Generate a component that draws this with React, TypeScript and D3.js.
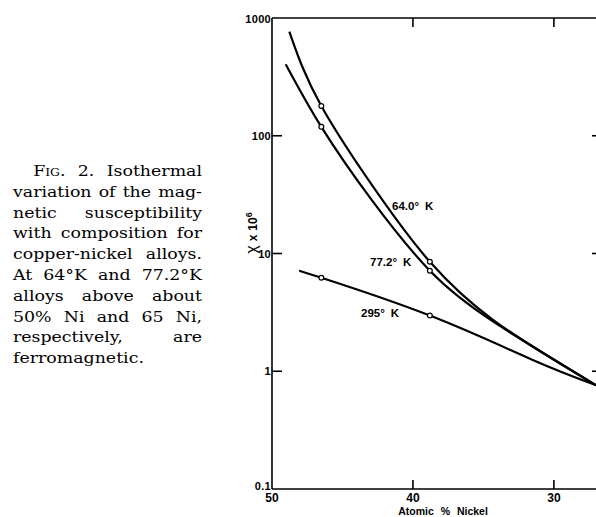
import React from 'react';
import * as d3 from 'd3';

// atomic % Ni vs susceptibility (x 10^6)
const curve64 = [
  [48.77, 766], [46.5, 179], [42.17, 28.5], [38.8, 8.5], [34.3, 2.72], [27.0, 0.76],
];
const curve77 = [
  [49.03, 405], [46.5, 119], [42.93, 28.5], [38.8, 7.14], [34.3, 2.64], [27.0, 0.76],
];
const curve295 = [
  [48.0, 7.1], [46.5, 6.22], [38.8, 2.97], [31.46, 1.24], [27.0, 0.76],
];
const marks64 = [[46.5, 179], [38.8, 8.5]];
const marks77 = [[46.5, 119], [38.8, 7.14]];
const marks295 = [[46.5, 6.22], [38.8, 2.97]];

const yTicks = [1000, 100, 10, 1, 0.1];
const yTickLabels = ['1000', '100', '10', '1', '0.1'];
const xTicks = [50, 40, 30];
const xTickLabels = ['50', '40', '30'];

const captionLines = [
  'variation of the mag-',
  'netic susceptibility',
  'with composition for',
  'copper-nickel alloys.',
  'At 64°K and 77.2°K',
  'alloys above about',
  '50% Ni and 65 Ni,',
  'respectively, are',
];

const W = 596;
const H = 517;
const sans = '"Liberation Sans", Arial, sans-serif';
const stretch = 1.12;

export default function App() {
  const x = d3.scaleLinear().domain([50, 26.8]).range([272, 599]);
  const y = d3.scaleLog().domain([0.1, 1000]).range([489, 18]);

  const line = d3
    .line<number[]>()
    .x(d => x(d[0]))
    .y(d => y(d[1]))
    .curve(d3.curveNatural);

  const x0 = x(50);
  const x1 = x(26.8);
  const yTop = y(1000);
  const yBot = y(0.1);

  const marker = (m: number[], i: number) => (
    <circle key={i} cx={x(m[0])} cy={y(m[1])} r={2.4} fill="#fff" stroke="#000" strokeWidth={1.2} />
  );

  return (
    <div style={{ position: 'absolute', left: 0, top: 0, width: W, height: H, background: '#fff' }}>
      <svg width={W} height={H} style={{ position: 'absolute', left: 0, top: 0 }}>
        {/* frame */}
        <g stroke="#000" strokeWidth={1.6} fill="none">
          <line x1={x0} y1={yTop} x2={x0} y2={yBot} />
          <line x1={x0} y1={yBot} x2={x1} y2={yBot} />
          <line x1={x0} y1={yTop} x2={x1} y2={yTop} />
          <line x1={x1} y1={yTop} x2={x1} y2={yBot} />
          {yTicks.slice(1, 4).map(t => (
            <line key={'l' + t} x1={x0} x2={x0 + 10} y1={y(t)} y2={y(t)} />
          ))}
          {yTicks.slice(1, 4).map(t => (
            <line key={'r' + t} x1={x1} x2={x1 - 7} y1={y(t)} y2={y(t)} />
          ))}
          {xTicks.slice(1).map(t => (
            <line key={'b' + t} x1={x(t)} x2={x(t)} y1={yBot} y2={yBot - 9} />
          ))}
          {xTicks.slice(1).map(t => (
            <line key={'t' + t} x1={x(t)} x2={x(t)} y1={yTop} y2={yTop + 9} />
          ))}
        </g>

        {/* tick labels */}
        <g fontFamily={sans} fontSize={11} fontWeight="bold" textAnchor="end" letterSpacing={0.3}>
          {yTicks.map((t, i) => (
            <text key={t} x={x0 - 1} y={y(t) + (i === 0 ? 5 : i === 4 ? 1 : 4)}>{yTickLabels[i]}</text>
          ))}
        </g>
        <g fontFamily={sans} fontSize={12} fontWeight="bold" textAnchor="middle">
          {xTicks.map((t, i) => (
            <text key={t} x={x(t)} y={yBot + 13}>{xTickLabels[i]}</text>
          ))}
        </g>
        <text x={443} y={515} fontFamily={sans} fontSize={10.5} fontWeight="bold" textAnchor="middle" wordSpacing={4}>
          Atomic % Nickel
        </text>
        <text
          transform="translate(257,233) rotate(-90)"
          fontFamily={sans}
          fontSize={12}
          fontWeight="bold"
          textAnchor="middle"
        >
          <tspan fontSize={16} fontWeight="normal">χ</tspan>
          <tspan dx={4}>x</tspan>
          <tspan dx={4}>10</tspan>
          <tspan dy={-5} fontSize={9}>6</tspan>
        </text>

        {/* curves */}
        <g fill="none" stroke="#000" strokeWidth={2.2}>
          <path d={line(curve64) || ''} />
          <path d={line(curve77) || ''} />
          <path d={line(curve295) || ''} />
        </g>
        {marks64.map(marker)}
        {marks77.map(marker)}
        {marks295.map(marker)}

        {/* curve labels */}
        <g fontFamily={sans} fontSize={11.5} fontWeight="bold">
          <text x={392} y={210}>64.0°<tspan dx={6}>K</tspan></text>
          <text x={370} y={266}>77.2°<tspan dx={6}>K</tspan></text>
          <text x={361} y={317}>295°<tspan dx={6}>K</tspan></text>
        </g>
      </svg>

      {/* caption */}
      <div
        style={{
          position: 'absolute',
          left: 13,
          top: 161,
          width: 189 / stretch,
          transform: `scaleX(${stretch})`,
          transformOrigin: '0 0',
          fontFamily: '"DejaVu Serif", serif',
          fontSize: 15.5,
          lineHeight: '20.8px',
          color: '#000',
        }}
      >
        <div style={{ textAlign: 'justify', textAlignLast: 'justify', paddingLeft: 18, whiteSpace: 'nowrap' }}>
          <span style={{ fontVariant: 'small-caps' }}>Fig.</span> 2. Isothermal
        </div>
        {captionLines.map((l, i) => (
          <div key={i} style={{ textAlign: 'justify', textAlignLast: 'justify', whiteSpace: 'nowrap' }}>
            {l}
          </div>
        ))}
        <div>ferromagnetic.</div>
      </div>
    </div>
  );
}
